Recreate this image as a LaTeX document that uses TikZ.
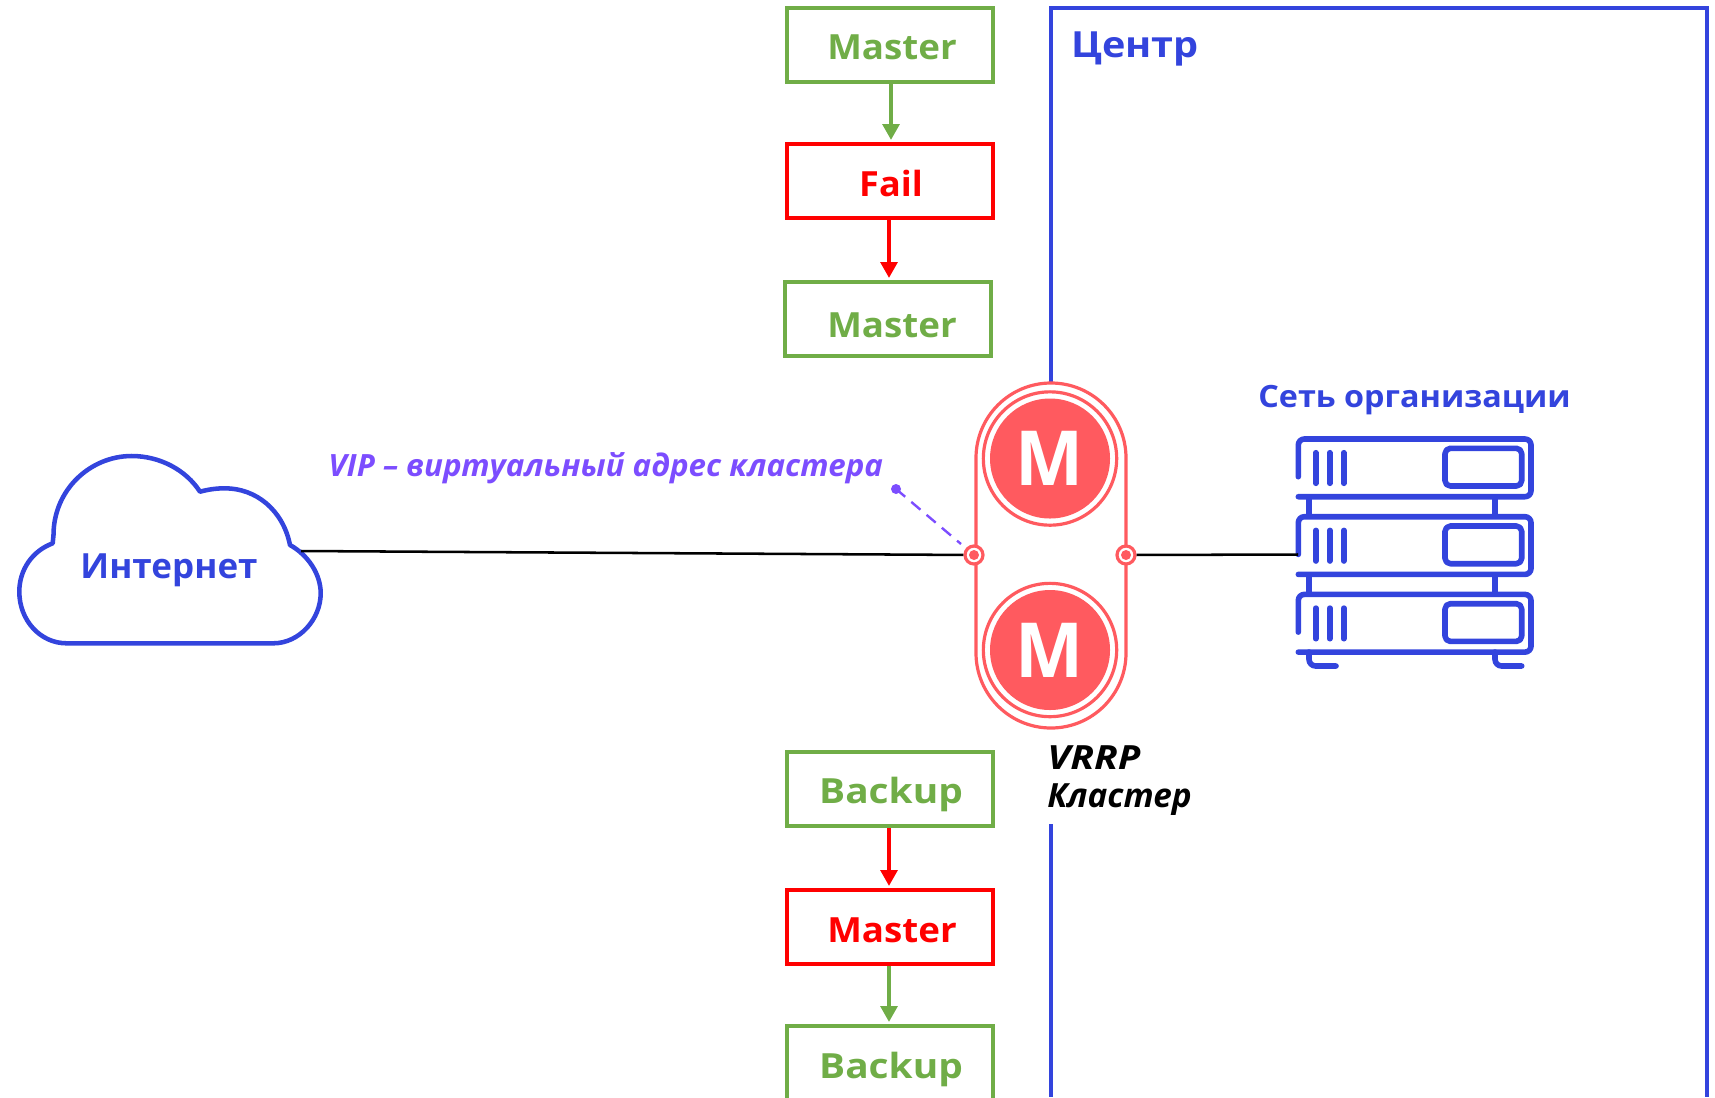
\documentclass[tikz,border=0pt]{standalone}
\usepackage{fontspec}
\usetikzlibrary{arrows.meta}
\setmainfont{Open Sans}[FakeStretch=1.1]
\newcommand{\fsk}[1]{\addfontfeature{FakeStretch=#1}}
\definecolor{nblue}{HTML}{3344DD}
\definecolor{ngreen}{HTML}{70AD47}
\definecolor{nred}{HTML}{FF0000}
\definecolor{ncoral}{HTML}{FF5A5F}
\definecolor{npurple}{HTML}{7C4DFF}
\tikzset{
  px/.style={x=0.75pt,y=-0.75pt},
  statebox/.style={draw,line width=3pt,minimum width=154.5pt,minimum height=55.5pt,inner sep=0pt,text height=23pt,text depth=0pt,font=\fontsize{26}{30}\selectfont\bfseries},
  gbox/.style={statebox,draw=ngreen,text=ngreen},
  rbox/.style={statebox,draw=nred,text=nred},
  garrow/.style={line width=3pt,draw=ngreen,shorten >=1.5pt,-{Triangle[length=12pt,width=12.5pt]}},
  rarrow/.style={line width=3pt,draw=nred,shorten >=1.5pt,-{Triangle[length=12pt,width=12.5pt]}},
  frameline/.style={draw=nblue,line width=3pt},
  lab/.style={anchor=base west,inner sep=0pt},
  srv/.style={draw=nblue,line width=4.2pt,line cap=round,line join=round},
  bigdisc/.style={circle,fill=ncoral,minimum size=90pt,inner sep=0pt,text=white,font=\fontsize{57}{60}\selectfont\bfseries\fsk{0.95}},
  ring/.style={draw=ncoral,line width=2.4pt},
  port/.style={circle,draw=ncoral,fill=white,line width=2.4pt,minimum size=13.5pt,inner sep=0pt},
  wire/.style={draw=black,line width=1.9pt}
}
\begin{document}
\begin{tikzpicture}[px]
\useasboundingbox (0,0) rectangle (1715,1097);
% frame
\draw[frameline,line join=miter] (1051,383) -- (1051,8) -- (1707,8) -- (1707,1097);
\draw[frameline] (1051,824) -- (1051,1097);
\node[lab,text=nblue,font=\fontsize{27}{30}\selectfont\bfseries] (centr) at (1071,57) {Центр};
% state boxes
\node[gbox] (m1) at (890,44.5) {\hspace*{3pt}\fsk{1.06}Master};
\node[rbox] (f1) at (890,181) {\hspace*{1.5pt}\fsk{1.04}Fail};
\node[gbox] (m2) at (888,319) {\hspace*{6pt}\raisebox{-2.4pt}{\fsk{1.06}Master}};
\node[gbox] (b1) at (890,789) {\hspace*{1.5pt}\raisebox{1pt}{\fsk{1.12}Backup}};
\node[rbox] (m3) at (890,927) {\hspace*{3pt}\fsk{1.06}Master};
\node[gbox] (b2) at (890,1063) {\hspace*{1.5pt}\fsk{1.12}Backup};
\draw[garrow] (m1.south -| 891,0) -- (f1.north -| 891,0);
\draw[rarrow] (f1.south -| 889,0) -- (m2.north -| 889,0);
\draw[rarrow] (b1.south -| 889,0) -- (m3.north -| 889,0);
\draw[garrow] (m3.south -| 889,0) -- (b2.north -| 889,0);
% capsule
\draw[ring,fill=white] (976,458) arc[start angle=180,end angle=360,radius=75] -- (1126,653) arc[start angle=0,end angle=180,radius=75] -- cycle;
\node[circle,ring,minimum size=100pt,inner sep=0pt] (ringa) at (1050,458.5) {};
\node[circle,ring,minimum size=100pt,inner sep=0pt] (ringb) at (1050,650) {};
\node[bigdisc] (mt) at (1050,458.5) {M};
\node[bigdisc] (mb) at (1050,650) {M};
% ports
\node[port] (pl) at (974,555) {};
\node[port] (pr) at (1126,555) {};
\fill[ncoral] (pl) circle[radius=5];
\fill[ncoral] (pr) circle[radius=5];
% cloud
\draw[frameline,line width=3.4pt,fill=white,line join=round] (66.7,643.3) -- (273.3,643.3)
  .. controls (299.5,643.3) and (320.7,619) .. (320.7,593.3)
  .. controls (320.7,574) and (308,555) .. (290,545)
  .. controls (283,510) and (256,488.3) .. (225,488.3)
  .. controls (216,488.3) and (208,489.5) .. (200,491.7)
  .. controls (186,470) and (160,456) .. (131.7,456)
  .. controls (90,456) and (53.5,490) .. (53.5,535)
  -- (52.7,543.3)
  .. controls (32,551) and (19.3,570) .. (19.3,591.7)
  .. controls (19.3,620) and (40,643.3) .. (66.7,643.3) -- cycle;
\coordinate (cloudexit) at (301,551);
\node[lab,anchor=base,text=nblue,font=\fontsize{26}{30}\selectfont\bfseries\fsk{1.01}] (inet) at (169,578) {Интернет};
% server
\coordinate (srvport) at (1298,554.5);
\foreach \dy in {0,77.7,155.4}{
  \begin{scope}[yshift=-\dy*0.75pt]
  \draw[srv] (1298.3,476.7) -- (1298.3,445) arc[start angle=180,end angle=270,radius=6] -- (1525,439) arc[start angle=270,end angle=360,radius=6] -- (1531,490.7) arc[start angle=0,end angle=90,radius=6] -- (1298.3,496.7);
  \draw[srv] (1315.7,452.7) -- (1315.7,483.3);
  \draw[srv] (1329.7,452.7) -- (1329.7,483.3);
  \draw[srv] (1343.7,452.7) -- (1343.7,483.3);
  \draw[srv,rounded corners=4pt] (1445,448.3) rectangle (1521.7,486);
  \end{scope}
}
\draw[srv,line cap=butt] (1309,496.7) -- (1309,516.7);
\draw[srv,line cap=butt] (1495,496.7) -- (1495,516.7);
\draw[srv,line cap=butt] (1309,574.4) -- (1309,594.4);
\draw[srv,line cap=butt] (1495,574.4) -- (1495,594.4);
\draw[srv,rounded corners=5pt] (1309,652) -- (1309,666) -- (1336,666);
\draw[srv,rounded corners=5pt] (1495,652) -- (1495,666) -- (1521.7,666);
\node[lab,text=nblue,font=\fontsize{23}{26}\selectfont\bfseries\fsk{1.055}] (org) at (1258,407) {Сеть организации};
% wires
\draw[wire] (cloudexit) -- (pl);
\draw[wire] (pr) -- (srvport);
% VIP
\node[lab,text=npurple,font=\fontsize{23}{26}\selectfont\bfseries\itshape\fsk{1.02}] (vip) at (328,476) {VIP – виртуальный адрес кластера};
\coordinate (vipdot) at (896,489);
\coordinate (vipend) at (961,544);
\fill[npurple] (vipdot) circle[radius=5];
\draw[draw=npurple,line width=1.8pt,dash pattern=on 9pt off 6pt] (vipdot) -- (vipend);
% cluster label
\node[lab,font=\fontsize{25}{28}\selectfont\bfseries\itshape\fsk{1.17}] (v1) at (1047,769) {VRRP};
\node[lab,font=\fontsize{25}{28}\selectfont\bfseries\itshape\fsk{1.0}] (v2) at (1047,807) {Кластер};
\end{tikzpicture}
\end{document}
